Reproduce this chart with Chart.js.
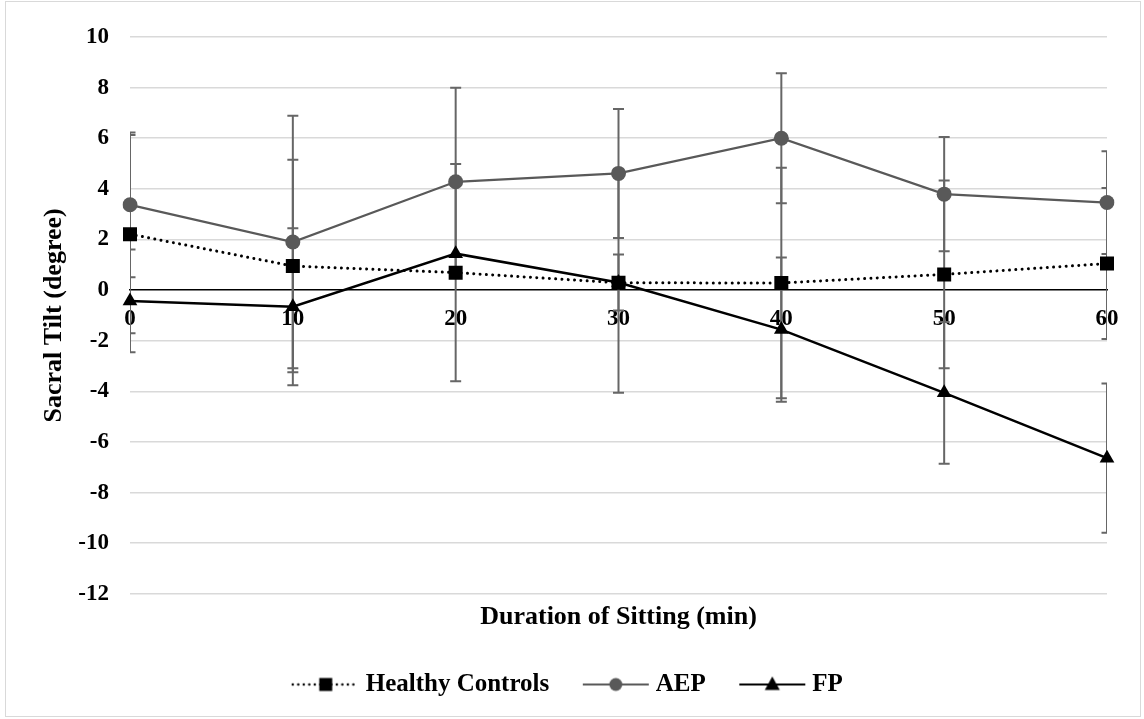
<!DOCTYPE html>
<html>
<head>
<meta charset="utf-8">
<script src="https://cdn.jsdelivr.net/npm/chart.js@4/dist/chart.umd.min.js"></script>
<style>
  body { margin: 0; background: #fff; }
  #wrap { position: relative; width: 1144px; height: 719px; }
  #frame { position: absolute; left: 5px; top: 1px; width: 1134px; height: 714px; border: 1px solid #d9d9d9; pointer-events: none; }
</style>
</head>
<body>
<div id="wrap">
  <canvas id="chart" width="1144" height="719"></canvas>
  <div id="frame"></div>
</div>
<script>
// Data
const minutes = ["0", "10", "20", "30", "40", "50", "60"];
const healthy = [2.21, 0.95, 0.69, 0.29, 0.28, 0.62, 1.05];
const healthyErr = [3.92, 4.20, 4.29, 4.35, 4.55, 3.71, 2.98];
const aep = [3.37, 1.90, 4.28, 4.61, 6.00, 3.79, 3.46];
const aepErr = [2.86, 4.99, 3.71, 2.55, 2.57, 2.26, 2.03];
const fp = [-0.43, -0.66, 1.44, 0.30, -1.56, -4.06, -6.64];
const fpErr = [2.03, 3.10, 0, 1.11, 2.85, 2.80, 2.95];
const yTicks = [-12, -10, -8, -6, -4, -2, 0, 2, 4, 6, 8, 10];

const FONT = "'Liberation Serif', 'Times New Roman', serif";
const GREY = "#595959";

// small canvas used as legend symbol: line with marker in the middle
function legendIcon(color, dash, marker) {
  const c = document.createElement("canvas");
  c.width = 70;
  c.height = 20;
  const g = c.getContext("2d");
  g.strokeStyle = color;
  g.lineWidth = dash.length ? 2.5 : 2;
  g.lineCap = dash.length ? "round" : "butt";
  g.setLineDash(dash);
  g.beginPath();
  g.moveTo(2, 10);
  g.lineTo(68, 10);
  g.stroke();
  g.setLineDash([]);
  g.fillStyle = color;
  g.beginPath();
  if (marker === "rect") {
    g.rect(28.5, 3.5, 13, 13);
  } else if (marker === "circle") {
    g.arc(35, 10, 6.5, 0, Math.PI * 2);
  } else {
    g.moveTo(35, 2);
    g.lineTo(42.5, 15.5);
    g.lineTo(27.5, 15.5);
    g.closePath();
  }
  g.fill();
  return c;
}

// error bars drawn behind the lines
const errorBars = {
  id: "errorBars",
  beforeDatasetsDraw(chart) {
    const { ctx, chartArea } = chart;
    const yScale = chart.scales.y;
    ctx.save();
    ctx.beginPath();
    ctx.rect(chartArea.left, chartArea.top, chartArea.right - chartArea.left, chartArea.bottom - chartArea.top);
    ctx.clip();
    ctx.strokeStyle = "#666666";
    ctx.lineWidth = 2;
    chart.data.datasets.forEach((ds, i) => {
      const meta = chart.getDatasetMeta(i);
      meta.data.forEach((pt, j) => {
        const e = ds.errors[j];
        if (!e) return;
        const v = ds.data[j];
        const top = yScale.getPixelForValue(v + e);
        const bot = yScale.getPixelForValue(v - e);
        ctx.beginPath();
        ctx.moveTo(pt.x, top);
        ctx.lineTo(pt.x, bot);
        ctx.moveTo(pt.x - 5.5, top);
        ctx.lineTo(pt.x + 5.5, top);
        ctx.moveTo(pt.x - 5.5, bot);
        ctx.lineTo(pt.x + 5.5, bot);
        ctx.stroke();
      });
    });
    ctx.restore();
  }
};

const icons = [
  legendIcon("#000", [0.01, 5.5], "rect"),
  legendIcon(GREY, [], "circle"),
  legendIcon("#000", [], "triangle")
];

new Chart(document.getElementById("chart"), {
  type: "line",
  data: {
    labels: minutes,
    datasets: [
      {
        label: "Healthy Controls",
        data: healthy,
        errors: healthyErr,
        borderColor: "#000",
        backgroundColor: "#000",
        borderWidth: 3,
        borderDash: [0.01, 6.3],
        borderCapStyle: "round",
        pointStyle: "rect",
        pointRadius: 9.9,
        pointBorderWidth: 0
      },
      {
        label: "AEP",
        data: aep,
        errors: aepErr,
        borderColor: GREY,
        backgroundColor: GREY,
        borderWidth: 2.25,
        pointStyle: "circle",
        pointRadius: 7.5,
        pointBorderWidth: 0
      },
      {
        label: "FP",
        data: fp,
        errors: fpErr,
        borderColor: "#000",
        backgroundColor: "#000",
        borderWidth: 2.5,
        pointStyle: "triangle",
        pointRadius: 8.5,
        pointBorderWidth: 0
      }
    ]
  },
  options: {
    responsive: false,
    devicePixelRatio: 1,
    animation: false,
    layout: { padding: { left: 5, right: 8, top: 37, bottom: 12 } },
    scales: {
      x: {
        position: { y: 0 },
        grid: { display: false, drawTicks: false },
        border: { display: true, color: "#000", width: 1.5 },
        ticks: {
          color: "#000",
          padding: 15,
          maxRotation: 0,
          autoSkip: false,
          font: { family: FONT, size: 23, weight: "bold" }
        }
      },
      y: {
        min: -12,
        max: 10,
        afterBuildTicks: s => { s.ticks = yTicks.map(v => ({ value: v })); },
        afterFit: s => { s.width = 125; },
        grid: {
          drawTicks: false,
          lineWidth: 1.5,
          color: c => (c.tick && c.tick.value === 0 ? "rgba(0,0,0,0)" : "#d9d9d9")
        },
        border: { display: false },
        ticks: {
          color: "#000",
          padding: 21,
          font: { family: FONT, size: 23, weight: "bold" }
        },
        title: {
          display: true,
          text: "Sacral Tilt (degree)",
          color: "#000",
          padding: { top: 34, bottom: 0 },
          font: { family: FONT, size: 26, weight: "bold" }
        }
      },
      y2: {
        position: "right",
        display: true,
        grid: { display: false },
        border: { display: false },
        ticks: { display: false },
        afterFit: s => { s.width = 29; }
      }
    },
    plugins: {
      title: {
        display: true,
        text: "Duration of Sitting (min)",
        position: "bottom",
        fullSize: false,
        weight: 500,
        color: "#000",
        padding: { top: 8, bottom: 0 },
        font: { family: FONT, size: 26, weight: "bold" }
      },
      legend: {
        position: "bottom",
        labels: {
          usePointStyle: true,
          pointStyleWidth: 55,
          padding: 39,
          color: "#000",
          font: { family: FONT, size: 25, weight: "bold" },
          generateLabels: chart => chart.data.datasets.map((ds, i) => ({
            text: ds.label,
            pointStyle: icons[i],
            fillStyle: ds.backgroundColor,
            strokeStyle: ds.borderColor,
            lineWidth: 0,
            fontColor: "#000",
            hidden: false,
            datasetIndex: i
          }))
        }
      },
      tooltip: { enabled: false }
    }
  },
  plugins: [errorBars]
});
</script>
</body>
</html>
